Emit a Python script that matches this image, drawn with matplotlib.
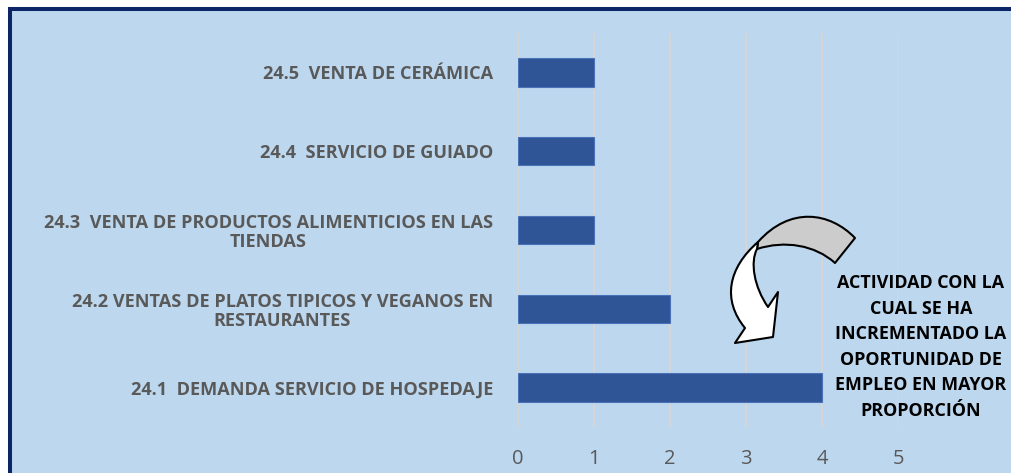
import matplotlib.pyplot as plt
from matplotlib.patches import Rectangle, PathPatch
from matplotlib.path import Path

# datos
categorias = [
    "24.1  DEMANDA SERVICIO DE HOSPEDAJE",
    "24.2 VENTAS DE PLATOS TIPICOS Y VEGANOS EN\nRESTAURANTES",
    "24.3  VENTA DE PRODUCTOS ALIMENTICIOS EN LAS\nTIENDAS",
    "24.4  SERVICIO DE GUIADO",
    "24.5  VENTA DE CERÁMICA",
]
valores = [4, 2, 1, 1, 1]
ticks_x = [0, 1, 2, 3, 4, 5]
nota = "ACTIVIDAD CON LA\nCUAL SE HA\nINCREMENTADO LA\nOPORTUNIDAD DE\nEMPLEO EN MAYOR\nPROPORCIÓN"

W, H = 1011, 473
fig = plt.figure(figsize=(W / 100, H / 100), dpi=100)
fig.patch.set_facecolor("white")


def px(x, y):
    """Pixel (desde arriba-izquierda) -> coordenadas de figura."""
    return (x / W, 1 - y / H)


# marco de fondo
x0, y0 = px(10, 9)
fig.patches.append(Rectangle((x0, -0.1), 1.2, y0 + 0.1, transform=fig.transFigure,
                             facecolor="#BDD7EE", edgecolor="#0B2566", linewidth=2.9,
                             zorder=-5))

l, t = px(518, 33)
r, b = px(898, 427)
ax = fig.add_axes([l, b, r - l, t - b])
ax.set_facecolor("none")
ax.set_zorder(1)

pos = list(range(len(categorias)))
ax.barh(pos, valores, height=0.36, color="#2F5597", edgecolor="#4A72B8",
        linewidth=0.8, zorder=3)

ax.set_xlim(0, 5)
ax.set_ylim(-0.5, len(categorias) - 0.5)
ax.set_xticks(ticks_x)
ax.set_xticklabels([str(v) for v in ticks_x], family="Open Sans", fontsize=14.5,
                   color="#595959")
ax.set_yticks(pos)
ax.set_yticklabels(categorias, multialignment="center", family="Open Sans",
                   fontweight="bold", fontsize=13.1, color="#595959",
                   linespacing=1.1)
ax.tick_params(axis="x", length=0, pad=16)
ax.tick_params(axis="y", length=0, pad=18)

ax.grid(axis="x", color="#D6D6D6", linewidth=1.5, zorder=1)
for s in ax.spines.values():
    s.set_visible(False)


# flecha curva (contornos en pixeles)
def forma(segmentos):
    verts, codes = [], []
    for tipo, pts in segmentos:
        pts = [px(*p) for p in pts]
        if tipo == "M":
            verts += pts
            codes += [Path.MOVETO]
        elif tipo == "L":
            verts += pts
            codes += [Path.LINETO] * len(pts)
        elif tipo == "C":
            verts += pts
            codes += [Path.CURVE4] * 3
    verts.append(verts[0])
    codes.append(Path.CLOSEPOLY)
    return Path(verts, codes)


gris = forma([("M", [(758, 242)]),
              ("C", [(790, 206), (830, 212), (855, 238)]),
              ("L", [(835, 263)]),
              ("C", [(815, 245), (785, 240), (757, 249)])])
blanca = forma([("M", [(758, 242)]),
                ("C", [(728, 268), (722, 300), (745, 328)]),
                ("L", [(735, 343), (773, 337), (778, 292), (768, 307)]),
                ("C", [(754, 287), (750, 262), (757, 249)])])
for p, c in [(gris, "#CCCCCC"), (blanca, "white")]:
    fig.patches.append(PathPatch(p, transform=fig.transFigure, facecolor=c,
                                 edgecolor="black", linewidth=1.5,
                                 joinstyle="round", zorder=5))

tx, ty = px(921, 347)
fig.text(tx, ty, nota, ha="center", va="center", multialignment="center",
         fontsize=12.9, fontweight="bold", family="Open Sans", color="black",
         linespacing=1.53, zorder=6)

fig.savefig("out.png", dpi=100)
